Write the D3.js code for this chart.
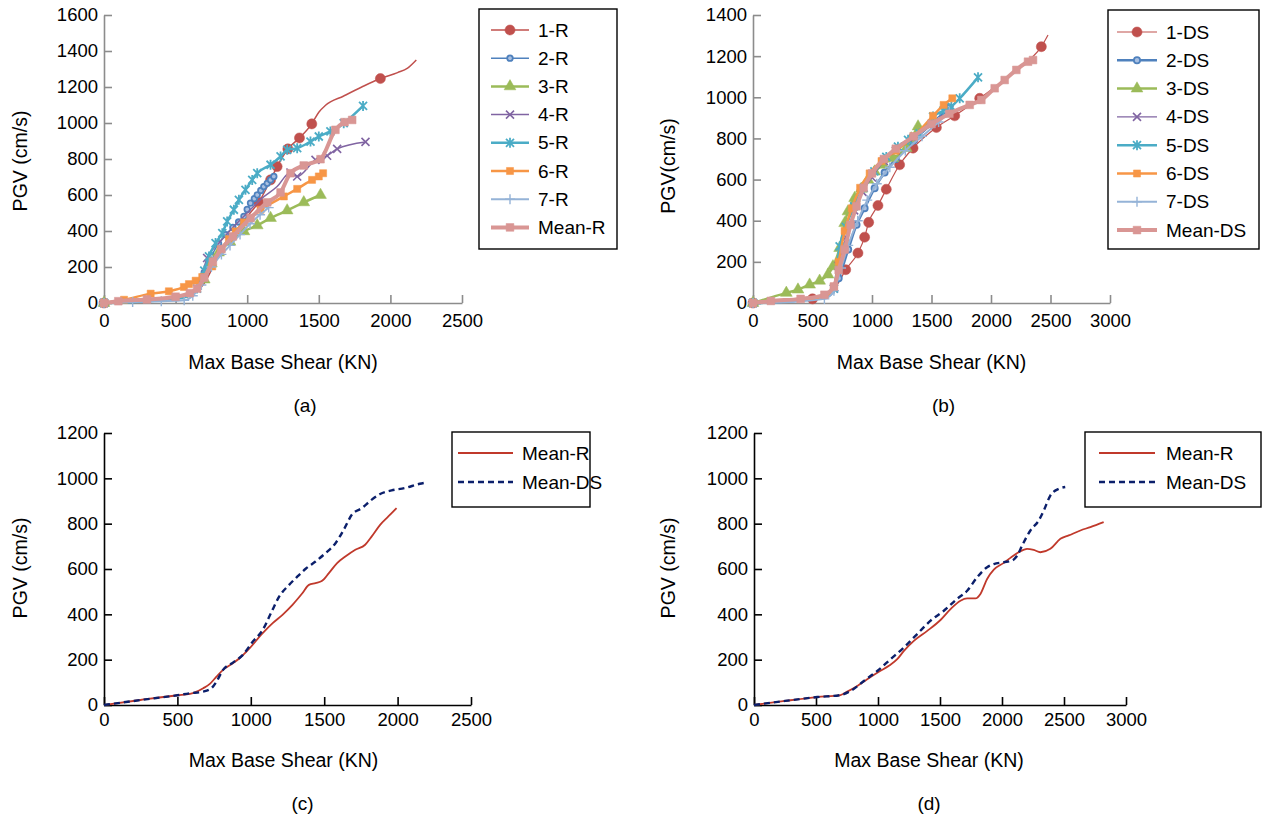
<!DOCTYPE html>
<meta charset="utf-8">
<style>
body { margin: 0; background: #fff; }
svg { font-family: "Liberation Sans", Arial, sans-serif; }
</style>
<body>
<script src="https://d3js.org/d3.v7.min.js"></script>
<script>

// ---- data ----
// [shear, pgv] ; a third value 0 means "line point, no marker"
var r1 = [[0,0],[150,10,0],[400,25,0],[600,45,0],[700,110,0],[780,230,0],[860,340,0],[950,430,0],[1020,500,0],[1081,560],[1163,684],[1209,758],[1284,856],[1365,917],[1451,995],[1500,1060,0],[1545,1097,0],[1674,1150,0],[1800,1200,0],[1930,1247],[2050,1280,0],[2120,1305,0],[2181,1350,0]];
var r2 = [[0,0],[100,5,0],[300,15,0],[500,25,0],[600,40,0],[660,90,0],[700,170],[750,260],[800,330],[850,380],[900,420],[940,450],[977,481],[1000,520],[1023,555],[1050,580],[1070,601],[1095,625],[1116,647],[1140,665],[1163,684],[1186,703]];
var r3 = [[0,0],[300,15,0],[550,30,0],[650,70,0],[700,130],[750,220],[800,280],[880,340],[977,398],[1070,431],[1163,472],[1279,514],[1395,559],[1512,600]];
var r4 = [[0,0],[300,10,0],[600,40,0],[680,150,0],[720,250],[800,330,0],[900,420,0],[1000,500,0],[1100,580,0],[1209,647,0],[1302,725],[1349,703],[1477,795],[1558,818],[1628,856],[1826,895]];
var r5 = [[0,0],[300,10,0],[550,30,0],[650,80],[700,180],[733,259],[779,333],[826,388],[860,453],[907,518],[942,573],[988,629],[1035,684],[1070,721],[1163,768],[1233,814],[1279,851],[1349,860],[1442,897],[1500,925],[1581,953],[1674,999],[1809,1095]];
var r6 = [[0,0],[140,18],[326,52],[453,65],[558,89],[593,105],[640,124],[686,144],[756,203],[814,296],[872,355],[919,398],[977,448],[1093,518],[1256,592],[1349,634],[1453,684],[1500,703],[1530,721]];
var r7 = [[0,0],[200,5],[400,10],[560,15],[620,40],[680,100],[750,200],[820,270],[880,320],[950,380],[1020,440],[1090,490],[1150,530]];
var rMean = [[0,0],[100,10],[300,20],[500,35],[600,55],[650,80],[700,140],[760,230],[820,300],[900,370],[1023,472],[1140,559],[1233,614],[1302,721],[1395,764],[1512,799],[1616,962],[1680,1005],[1733,1017]];

var ds1 = [[0,0],[300,10,0],[500,20],[650,40,0],[720,100,0],[779,162],[882,243],[938,320],[972,392],[1050,474],[1120,553],[1232,672],[1345,753],[1541,853],[1695,910],[1905,995],[2100,1080,0],[2300,1170,0],[2423,1246],[2479,1303,0]];
var ds2 = [[0,0],[300,8,0],[500,20,0],[650,40,0],[720,120],[800,260],[870,380],[938,461],[1022,558],[1106,634],[1200,700],[1350,790],[1500,870],[1650,950]];
var ds3 = [[0,0],[280,49],[378,65],[476,89],[560,108],[630,138],[672,178],[728,267],[770,388],[798,445],[854,510],[910,555],[966,599],[1022,639],[1092,672],[1176,704],[1288,753],[1330,800],[1387,858]];
var ds4 = [[0,0],[300,8,0],[600,30,0],[680,70],[720,180],[780,320],[850,450],[920,540],[1000,610],[1100,690],[1200,740],[1350,800],[1500,870],[1650,940]];
var ds5 = [[0,0],[300,8,0],[600,30,0],[680,70],[728,275],[780,370],[850,470],[930,560],[1020,640],[1120,710],[1218,760],[1303,793],[1400,825],[1513,906],[1600,935],[1667,955],[1737,995],[1891,1097]];
var ds6 = [[0,0],[300,10,0],[600,30,0],[680,80],[720,200],[770,350],[830,460],[900,560],[980,630],[1080,690],[1200,740],[1350,810],[1513,910],[1602,963],[1675,995]];
var ds7 = [[0,0],[300,5,0],[600,20],[680,60],[740,170],[800,280],[880,400],[960,500],[1040,580],[1150,660],[1280,740],[1420,810],[1560,880],[1650,930]];
var dsMean = [[0,0],[150,10],[400,20],[600,40],[680,80],[720,160],[770,260],[820,380],[870,470],[930,560],[1000,630],[1100,700],[1200,750],[1350,810],[1500,870],[1650,920],[1821,963],[1919,987],[2031,1044],[2115,1084],[2213,1133],[2311,1173],[2353,1181]];

var cMeanR = [[0,0],[248,22],[500,43],[586,49],[676,74],[721,93],[766,125],[811,155],[878,184],[923,206],[991,250],[1081,317],[1149,361],[1216,398],[1284,442],[1351,493],[1396,530],[1441,538],[1486,548],[1532,582],[1588,626],[1644,655],[1712,685],[1779,707],[1824,744],[1881,795],[1937,832],[1993,869]];
var cMeanDS = [[0,0],[250,22],[500,43],[586,52],[676,59],[732,74],[766,103],[811,155],[878,187],[946,221],[1014,280],[1081,331],[1137,405],[1194,479],[1261,530],[1318,567],[1374,601],[1441,633],[1509,670],[1577,714],[1633,773],[1689,840],[1757,869],[1824,906],[1881,931],[1959,947],[2050,957],[2151,976],[2185,980]];
var dMeanR = [[0,0],[250,18],[510,35],[698,44],[752,59],[833,84],[913,114],[1007,147],[1088,173],[1155,202],[1209,239],[1289,283],[1397,327],[1504,375],[1585,423],[1665,460],[1719,470],[1786,470],[1826,490],[1880,556],[1934,597],[2014,627],[2068,649],[2135,674],[2202,689],[2256,684],[2310,674],[2390,689],[2471,733],[2538,748],[2632,770],[2713,785],[2820,807]];
var dMeanDS = [[0,0],[250,18],[510,35],[698,44],[779,62],[886,106],[994,150],[1101,202],[1209,254],[1316,313],[1424,372],[1531,416],[1638,468],[1719,504],[1799,563],[1880,608],[1934,622],[2014,630],[2082,637],[2122,659],[2163,704],[2229,770],[2296,814],[2337,858],[2391,925],[2458,954],[2510,962]];

var namesR = ["1-R","2-R","3-R","4-R","5-R","6-R","7-R","Mean-R"];
var namesDS = ["1-DS","2-DS","3-DS","4-DS","5-DS","6-DS","7-DS","Mean-DS"];
var namesMean = ["Mean-R","Mean-DS"];

var xTicksA = [0,500,1000,1500,2000,2500];
var xTicksB = [0,500,1000,1500,2000,2500,3000];
var yTicksA = [0,200,400,600,800,1000,1200,1400,1600];
var yTicksB = [0,200,400,600,800,1000,1200,1400];
var yTicksC = [0,200,400,600,800,1000,1200];

// ---- styles ----
var colors = ["#c0504d","#4f81bd","#9bbb59","#8064a2","#4bacc6","#f79646","#95b3d7","#d99694"];

function timesPath(s) { return "M" + (-s) + "," + (-s) + "L" + s + "," + s + "M" + (-s) + "," + s + "L" + s + "," + (-s); }

var markR = [
  {type: d3.symbolCircle, size: 80, fill: true, w: 1.5},
  {type: d3.symbolCircle, size: 24, fill: false, w: 1.5},
  {type: d3.symbolTriangle, size: 60, fill: true, w: 2.5},
  {type: "times", size: 4, fill: false, w: 1.5},
  {type: "star", size: 4, fill: false, w: 2.5},
  {type: d3.symbolSquare, size: 50, fill: true, w: 2.5},
  {type: "plus", size: 5, fill: false, w: 2},
  {type: d3.symbolSquare, size: 60, fill: true, w: 4}
];
var markDS = markR.map(function(m, i) {
  var c = Object.assign({}, m);
  if (i === 0 || i === 3) c.w = 1.2;
  if (i === 1) { c.w = 2.5; c.size = 30; }
  return c;
});

var svg = d3.select("body").append("svg")
    .attr("width", 1265)
    .attr("height", 820);

function drawMarker(g, m, color, x, y) {
  if (m.type === "times") {
    g.append("path").attr("d", timesPath(m.size)).attr("transform", "translate(" + x + "," + y + ")")
      .attr("stroke", color).attr("stroke-width", 1.6).attr("fill", "none");
  } else if (m.type === "star") {
    g.append("path").attr("d", timesPath(m.size) + "M0," + (-m.size - 1) + "L0," + (m.size + 1)).attr("transform", "translate(" + x + "," + y + ")")
      .attr("stroke", color).attr("stroke-width", 1.8).attr("fill", "none");
  } else if (m.type === "plus") {
    g.append("path").attr("d", "M" + (-m.size) + ",0L" + m.size + ",0M0," + (-m.size) + "L0," + m.size).attr("transform", "translate(" + x + "," + y + ")")
      .attr("stroke", color).attr("stroke-width", 1.4).attr("fill", "none");
  } else {
    g.append("path").attr("d", d3.symbol().type(m.type).size(m.size)()).attr("transform", "translate(" + x + "," + y + ")")
      .attr("fill", m.fill ? color : "#a9c0e2").attr("stroke", color).attr("stroke-width", m.fill ? 0.5 : 1.8);
  }
}

function panel(p) {
  var x = d3.scaleLinear().domain([0, p.xMax]).range([p.x0, p.x1]);
  var y = d3.scaleLinear().domain([0, p.yMax]).range([p.y0, p.y1]);

  var gx = svg.append("g").attr("transform", "translate(0," + p.y0 + ")")
      .call(d3.axisBottom(x).tickValues(p.xTicks).tickFormat(d3.format("d")).tickSizeInner(-8).tickSizeOuter(0).tickPadding(p.xPad));
  var gy = svg.append("g").attr("transform", "translate(" + p.x0 + ",0)")
      .call(d3.axisLeft(y).tickValues(p.yTicks).tickFormat(d3.format("d")).tickSizeInner(-8).tickSizeOuter(0).tickPadding(6));
  [gx, gy].forEach(function(g) {
    g.selectAll("path,line").attr("stroke", p.axisColor).attr("stroke-width", 1.6);
    g.selectAll("text").attr("fill", "#000").style("font-size", "18.5px").style("font-family", "Liberation Sans, Arial, sans-serif");
  });

  svg.append("text").attr("x", (p.x0 + p.x1) / 2 + p.titleDx).attr("y", p.y0 + p.titleDy)
    .attr("text-anchor", "middle").attr("dominant-baseline", "central")
    .style("font-size", "19.5px").text("Max Base Shear (KN)");
  svg.append("text").attr("x", (p.x0 + p.x1) / 2 + p.capDx).attr("y", p.y0 + p.capDy)
    .attr("text-anchor", "middle").attr("dominant-baseline", "central")
    .style("font-size", "19px").text(p.caption);
  svg.append("text").attr("transform", "translate(" + p.yTitleX + "," + p.yTitleY + ") rotate(-90)")
    .attr("text-anchor", "middle").attr("dominant-baseline", "central")
    .style("font-size", "19.5px").text(p.yTitle);

  var line = d3.line().x(function(d) { return x(d[0]); }).y(function(d) { return y(d[1]); }).curve(d3.curveMonotoneX);

  p.series.forEach(function(s) {
    svg.append("path").datum(s.data).attr("d", line).attr("fill", "none")
      .attr("stroke", s.color).attr("stroke-width", s.w)
      .attr("stroke-dasharray", s.dash || null).attr("stroke-linejoin", "round");
    if (s.mark) {
      var g = svg.append("g");
      s.data.forEach(function(d) {
        if (d[2] === 0) return;
        drawMarker(g, s.mark, s.color, x(d[0]), y(d[1]));
      });
    }
  });

  // legend
  var L = p.legend;
  svg.append("rect").attr("x", L.x).attr("y", L.y).attr("width", L.w).attr("height", L.h)
    .attr("fill", "#fff").attr("stroke", "#000").attr("stroke-width", 1.4);
  p.series.forEach(function(s, i) {
    var ly = L.first + i * L.step;
    svg.append("line").attr("x1", L.lx0).attr("x2", L.lx1).attr("y1", ly).attr("y2", ly)
      .attr("stroke", s.color).attr("stroke-width", s.w).attr("stroke-dasharray", s.dash || null);
    if (s.mark) drawMarker(svg, s.mark, s.color, (L.lx0 + L.lx1) / 2, ly);
    svg.append("text").attr("x", L.tx).attr("y", ly).attr("dominant-baseline", "central")
      .style("font-size", "19px").text(s.name);
  });
}

var dataR = [r1, r2, r3, r4, r5, r6, r7, rMean];
var dataDS = [ds1, ds2, ds3, ds4, ds5, ds6, ds7, dsMean];

panel({
  x0: 104, x1: 462, y0: 303, y1: 15, xMax: 2500, yMax: 1600,
  xTicks: xTicksA, yTicks: yTicksA, axisColor: "#8c8c8c", xPad: 11,
  titleDx: 0, titleDy: 59, capDx: 22, capDy: 102, caption: "(a)",
  yTitle: "PGV (cm/s)", yTitleX: 20, yTitleY: 161,
  series: dataR.map(function(d, i) { return {name: namesR[i], data: d, color: colors[i], w: markR[i].w, mark: markR[i]}; }),
  legend: {x: 479, y: 9, w: 138, h: 240, first: 30, step: 28.2, lx0: 491, lx1: 529, tx: 538}
});

panel({
  x0: 753, x1: 1110, y0: 303, y1: 15, xMax: 3000, yMax: 1400,
  xTicks: xTicksB, yTicks: yTicksB, axisColor: "#8c8c8c", xPad: 11,
  titleDx: 0, titleDy: 59, capDx: 12, capDy: 102, caption: "(b)",
  yTitle: "PGV(cm/s)", yTitleX: 668, yTitleY: 166,
  series: dataDS.map(function(d, i) { return {name: namesDS[i], data: d, color: colors[i], w: markDS[i].w, mark: markDS[i]}; }),
  legend: {x: 1108, y: 10, w: 151, h: 239, first: 32, step: 28.3, lx0: 1117, lx1: 1157, tx: 1166}
});

panel({
  x0: 104, x1: 471, y0: 705, y1: 433, xMax: 2500, yMax: 1200,
  xTicks: xTicksA, yTicks: yTicksC, axisColor: "#000", xPad: 8,
  titleDx: -4, titleDy: 55, capDx: 15, capDy: 98, caption: "(c)",
  yTitle: "PGV (cm/s)", yTitleX: 20, yTitleY: 568,
  series: [
    {name: namesMean[0], data: cMeanR, color: "#c0392b", w: 1.8},
    {name: namesMean[1], data: cMeanDS, color: "#0b1f6b", w: 2.4, dash: "6,4"}
  ],
  legend: {x: 452, y: 432, w: 138, h: 75, first: 453, step: 29, lx0: 458, lx1: 513, tx: 522}
});

panel({
  x0: 754, x1: 1126, y0: 705, y1: 433, xMax: 3000, yMax: 1200,
  xTicks: xTicksB, yTicks: yTicksC, axisColor: "#000", xPad: 8,
  titleDx: -11, titleDy: 55, capDx: -11, capDy: 98, caption: "(d)",
  yTitle: "PGV (cm/s)", yTitleX: 668, yTitleY: 568,
  series: [
    {name: namesMean[0], data: dMeanR, color: "#c0392b", w: 1.8},
    {name: namesMean[1], data: dMeanDS, color: "#0b1f6b", w: 2.4, dash: "6,4"}
  ],
  legend: {x: 1085, y: 432, w: 176, h: 75, first: 453, step: 29, lx0: 1099, lx1: 1155, tx: 1166}
});

</script>
